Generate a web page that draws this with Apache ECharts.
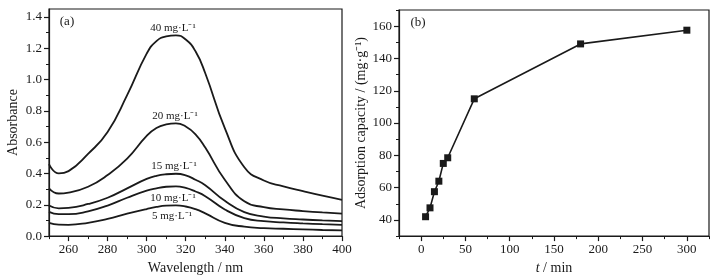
<!DOCTYPE html>
<html>
<head>
<meta charset="utf-8">
<script src="https://cdn.jsdelivr.net/npm/echarts@6/dist/echarts.min.js"></script>
<style>
  html, body { margin: 0; padding: 0; background: #fff; }
  #chart { width: 727px; height: 280px; }
</style>
</head>
<body>
<div id="chart"></div>
<script>
// (a) UV spectra
var wavelength = [250, 255, 260, 270, 280, 290, 300, 305, 310, 315, 320, 325, 330, 340, 350, 360, 370, 380, 390, 400];
var abs40 = [0.46, 0.40, 0.415, 0.525, 0.665, 0.90, 1.165, 1.245, 1.275, 1.282, 1.255, 1.18, 1.04, 0.69, 0.44, 0.355, 0.318, 0.287, 0.258, 0.232];
var abs20 = [0.305, 0.272, 0.278, 0.315, 0.39, 0.495, 0.64, 0.69, 0.713, 0.72, 0.70, 0.65, 0.565, 0.36, 0.222, 0.185, 0.17, 0.16, 0.151, 0.143];
var abs15 = [0.195, 0.177, 0.18, 0.205, 0.245, 0.305, 0.365, 0.385, 0.395, 0.398, 0.388, 0.36, 0.325, 0.225, 0.153, 0.125, 0.113, 0.106, 0.10, 0.095];
var abs10 = [0.155, 0.14, 0.14, 0.158, 0.195, 0.245, 0.29, 0.305, 0.315, 0.318, 0.308, 0.285, 0.255, 0.17, 0.115, 0.095, 0.087, 0.081, 0.076, 0.072];
var abs5 = [0.085, 0.073, 0.072, 0.085, 0.11, 0.143, 0.173, 0.186, 0.194, 0.196, 0.189, 0.172, 0.145, 0.085, 0.06, 0.051, 0.047, 0.043, 0.039, 0.036];
var concLabels = ['40 mg·L⁻¹', '20 mg·L⁻¹', '15 mg·L⁻¹', '10 mg·L⁻¹', '5 mg·L⁻¹'];
var wlTicks = [260, 280, 300, 320, 340, 360, 380, 400];
var absTicks = [0, 0.2, 0.4, 0.6, 0.8, 1.0, 1.2, 1.4];

// (b) adsorption kinetics
var timeMin = [5, 10, 15, 20, 25, 30, 60, 180, 300];
var capacity = [42, 47.5, 57.5, 64, 75, 78.5, 115, 149, 157.5];
var tTicks = [0, 50, 100, 150, 200, 250, 300];
var capTicks = [40, 60, 80, 100, 120, 140, 160];

var font = 'Liberation Serif';
var ink = '#1a1a1a';

function pairs(xs, ys) {
    return xs.map(function (x, i) { return [x, ys[i]]; });
}
// minor ticks: one between each pair of major ticks, plus outside ones
function minors(ticks, lo, hi) {
    var step = (ticks[1] - ticks[0]) / 2;
    var out = [];
    for (var v = ticks[0] - step * 4; v <= hi + 1e-9; v += step) {
        if (v >= lo - 1e-9) out.push(+v.toFixed(4));
    }
    return out;
}

function majorAxis(grid, lo, hi, ticks, fmt, extra) {
    var a = {
        gridIndex: grid,
        type: 'value',
        min: lo,
        max: hi,
        splitLine: { show: false },
        axisLine: { show: true, onZero: false, lineStyle: { color: ink, width: 1.2 } },
        axisTick: { show: true, customValues: ticks, length: 5, lineStyle: { color: ink, width: 1.2 } },
        axisLabel: { customValues: ticks, color: ink, fontFamily: font, fontSize: 13, margin: 7, formatter: fmt },
        nameLocation: 'middle',
        nameTextStyle: { color: ink, fontFamily: font, fontSize: 14 }
    };
    for (var k in extra) a[k] = extra[k];
    return a;
}
function minorAxis(grid, lo, hi, ticks, pos) {
    return {
        gridIndex: grid,
        type: 'value',
        position: pos,
        min: lo,
        max: hi,
        splitLine: { show: false },
        axisLine: { show: false, onZero: false },
        axisTick: { show: true, customValues: minors(ticks, lo, hi), length: 3, lineStyle: { color: ink, width: 1 } },
        axisLabel: { show: false }
    };
}

var lineStyle = { color: ink, width: 1.8 };
var spectra = [abs40, abs20, abs15, abs10, abs5].map(function (arr, i) {
    return {
        name: concLabels[i],
        type: 'line',
        xAxisIndex: 0,
        yAxisIndex: 0,
        smooth: 0.5,
        showSymbol: false,
        lineStyle: lineStyle,
        data: pairs(wavelength, arr)
    };
});

var labelPos = [[173, 28], [175, 116], [174, 166], [173, 198], [172, 216]];
var graphics = concLabels.map(function (t, i) {
    return {
        type: 'text', x: labelPos[i][0], y: labelPos[i][1],
        style: { text: t, fill: ink, font: '11px "' + font + '"', align: 'center', verticalAlign: 'middle' }
    };
});
graphics.push({ type: 'text', x: 67, y: 22, style: { text: '(a)', fill: ink, font: '13px "' + font + '"', align: 'center', verticalAlign: 'middle' } });
graphics.push({ type: 'text', x: 418, y: 23, style: { text: '(b)', fill: ink, font: '13px "' + font + '"', align: 'center', verticalAlign: 'middle' } });

var chart = echarts.init(document.getElementById('chart'));
chart.setOption({
    backgroundColor: '#fff',
    animation: false,
    grid: [
        { left: 49, top: 9, width: 293, height: 228, show: true, borderColor: ink, borderWidth: 1.2 },
        { left: 399, top: 10, width: 310, height: 229, show: true, borderColor: ink, borderWidth: 1.2 }
    ],
    xAxis: [
        majorAxis(0, 250, 400, wlTicks, null, { name: 'Wavelength / nm', nameGap: 21 }),
        minorAxis(0, 250, 400, wlTicks, 'bottom'),
        majorAxis(1, -25, 325, tTicks, null, {
            name: '{i|t} / min', nameGap: 20,
            nameTextStyle: { color: ink, fontFamily: font, fontSize: 14, rich: { i: { fontStyle: 'italic', fontFamily: font, fontSize: 14, color: ink } } }
        }),
        minorAxis(1, -25, 325, tTicks, 'bottom')
    ],
    yAxis: [
        majorAxis(0, 0, 1.45, absTicks, function (v) { return v.toFixed(1); }, { name: 'Absorbance', nameGap: 29 }),
        minorAxis(0, 0, 1.45, absTicks, 'left'),
        majorAxis(1, 30, 170, capTicks, null, { name: 'Adsorption capacity / (mg·g⁻¹)', nameGap: 30 }),
        minorAxis(1, 30, 170, capTicks, 'left')
    ],
    series: spectra.concat([{
        name: 'capacity',
        type: 'line',
        xAxisIndex: 2,
        yAxisIndex: 2,
        symbol: 'rect',
        symbolSize: 7,
        itemStyle: { color: ink },
        lineStyle: { color: ink, width: 1.6 },
        data: pairs(timeMin, capacity)
    }]),
    graphic: graphics
});
</script>
</body>
</html>
